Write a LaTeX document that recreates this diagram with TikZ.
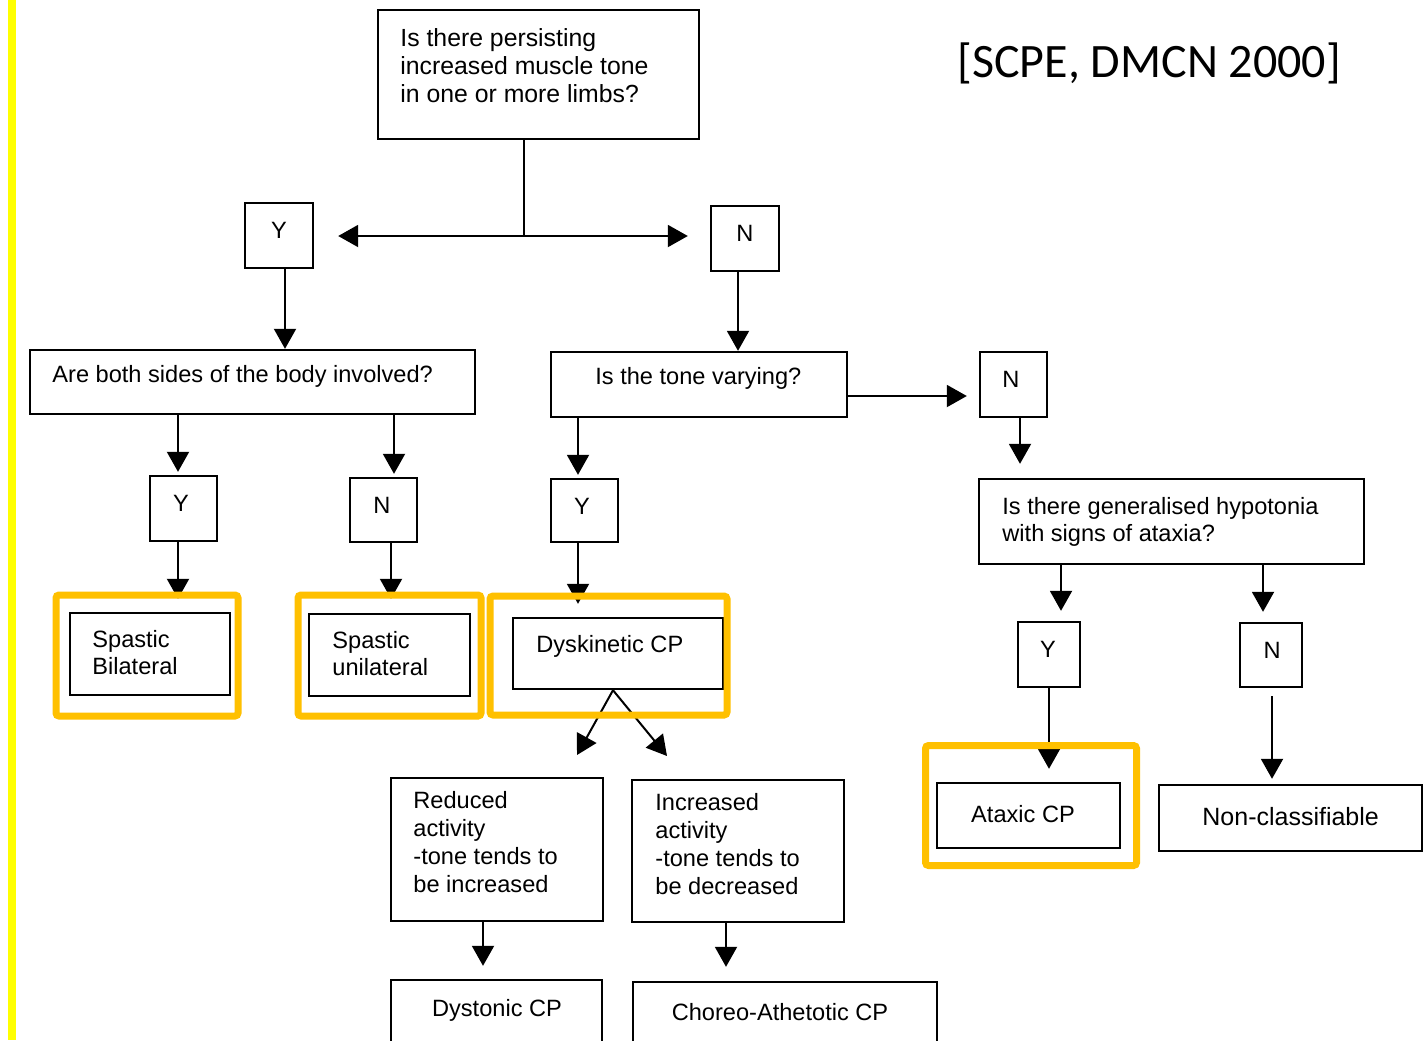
\documentclass[tikz,border=0pt]{standalone}
\usepackage{fontspec}
\setmainfont{Liberation Sans}
\newfontfamily\titlefont{Carlito}
\usetikzlibrary{arrows.meta,fit}
\definecolor{framegold}{HTML}{FFC000}
\definecolor{barYellow}{HTML}{FFFF00}

\begin{document}
\begin{tikzpicture}[x=0.5pt,y=-0.5pt,
  box/.style={draw=black, line width=1.2pt, inner sep=0pt},
  frame/.style={draw=framegold, line width=3.5pt, rounded corners=1.5pt, inner sep=0pt},
  txt/.style={inner sep=0pt, align=left, font=\fontsize{11.8}{14}\selectfont},
  ctxt/.style={inner sep=0pt, font=\fontsize{11.8}{14}\selectfont},
  arr/.style={line width=1pt, -{Triangle[length=10pt,width=11pt]}},
  link/.style={line width=1pt},
]
\clip (0,0) rectangle (1427,1040);
\fill[white] (0,0) rectangle (1427,1040);

% left margin bar
\fill[barYellow] (8,0) rectangle (16,1040);

% source note
\node[anchor=base west, inner sep=0pt, font=\titlefont\fontsize{24}{28}\selectfont] (src) at (957,77) {[SCPE, DMCN 2000]};

% ---------- boxes ----------
\node[box, fit={(378,10)(699,139)}] (q1) {};
\node[box, fit={(245,203)(313,268)}] (y1) {};
\node[box, fit={(711,206)(779,271)}] (n1) {};
\node[box, fit={(30,350)(475,414)}] (q2) {};
\node[box, fit={(551,352)(847,417)}] (q3) {};
\node[box, fit={(980,352)(1047,417)}] (n3) {};
\node[box, fit={(979,479)(1364,564)}] (q4) {};
\node[box, fit={(150,476)(217,541)}] (y2) {};
\node[box, fit={(350,478)(417,542)}] (n2) {};
\node[box, fit={(551,479)(618,542)}] (y3) {};
\node[box, fit={(70,613)(230,695)}] (r1) {};
\node[box, fit={(309,614)(470,696)}] (r2) {};
\node[box, fit={(513,618)(723,689)}] (r3) {};
\node[box, fit={(391,778)(603,921)}] (d1) {};
\node[box, fit={(632,780)(844,922)}] (d2) {};
\node[box, fit={(391,980)(602,1060)}] (r4) {};
\node[box, fit={(633,982)(937,1060)}] (r5) {};
\node[box, fit={(1018,622)(1080,687)}] (y4) {};
\node[box, fit={(1240,623)(1302,687)}] (n4) {};
\node[box, fit={(937,783)(1120,848)}] (r6) {};
\node[box, fit={(1159,785)(1422,851)}] (r7) {};

% ---------- texts (multi-line texts sit on the baseline of their last line) ----------
\node[txt, anchor=base west, font=\fontsize{12.4}{14}\selectfont] (q1t) at (400,102.5) {Is there persisting\\increased muscle tone\\in one or more limbs?};
\node[txt, anchor=base west] (q2t) at (52,382) {Are both sides of the body involved?};
\node[txt, anchor=base west] (q3t) at (595,384) {Is the tone varying?};
\node[txt, anchor=base west, font=\fontsize{11.8}{13.4}\selectfont] (q4t) at (1002,541.5) {Is there generalised hypotonia\\with signs of ataxia?};
\node[txt, anchor=base west, font=\fontsize{11.8}{13.5}\selectfont] (r1t) at (92,674.5) {Spastic\\Bilateral};
\node[txt, anchor=base west, font=\fontsize{11.8}{13.5}\selectfont] (r2t) at (332,675.5) {Spastic\\unilateral};
\node[txt, anchor=base west] (r3t) at (536,652) {Dyskinetic CP};
\node[txt, anchor=base west] (d1t) at (413,892) {Reduced\\activity\\-tone tends to\\be increased};
\node[txt, anchor=base west] (d2t) at (655,894) {Increased\\activity\\-tone tends to\\be decreased};
\node[ctxt, anchor=base] (r4t) at (497,1016) {Dystonic CP};
\node[ctxt, anchor=base] (r5t) at (780,1020) {Choreo-Athetotic CP};
\node[ctxt, anchor=base] (r6t) at (1023,822) {Ataxic CP};
\node[ctxt, anchor=base west, font=\fontsize{12.5}{14}\selectfont] (r7t) at (1202,825) {Non-classifiable};

\node[ctxt, anchor=base] (y1t) at (279,238) {Y};
\node[ctxt, anchor=base] (n1t) at (745,241) {N};
\node[ctxt, anchor=base] (n3t) at (1011,387) {N};
\node[ctxt, anchor=base] (y2t) at (181,511) {Y};
\node[ctxt, anchor=base] (n2t) at (382,513) {N};
\node[ctxt, anchor=base] (y3t) at (582,514) {Y};
\node[ctxt, anchor=base] (y4t) at (1048,657) {Y};
\node[ctxt, anchor=base] (n4t) at (1272,658) {N};

% ---------- connectors ----------
\coordinate (split) at (524,236);
\draw[link] (q1.south -| split) -- (split);
\draw[arr, shorten >=12pt] (split) -- (y1.east |- split);
\draw[arr, shorten >=11pt] (split) -- (n1.west |- split);

\draw[arr] (y1.south -| 285,0) -- (q2.north -| 285,0);
\draw[arr] (n1.south -| 738,0) -- (q3.north -| 738,0);

\draw[arr, shorten >=6pt] (q3.east |- 0,396) -- (n3.west |- 0,396);
\draw[arr, shorten >=7pt] (n3.south -| 1020,0) -- (q4.north -| 1020,0);

\draw[arr, shorten >=1.5pt] (q2.south -| 178,0) -- (y2.north -| 178,0);
\draw[arr, shorten >=1.5pt] (q2.south -| 394,0) -- (n2.north -| 394,0);
\draw[arr, shorten >=1.5pt] (q3.south -| 578,0) -- (y3.north -| 578,0);

\draw[arr, shorten >=6.5pt] (y2.south -| 178,0) -- (r1.north -| 178,0);
\draw[arr, shorten >=7pt] (n2.south -| 391,0) -- (r2.north -| 391,0);
\draw[arr, shorten >=6.5pt] (y3.south -| 578,0) -- (r3.north -| 578,0);

\coordinate (dl) at (577,755);
\coordinate (dr) at (667,756);
\draw[arr] (r3.south -| 613,0) -- (dl);
\draw[arr] (r3.south -| 613,0) -- (dr);

\draw[arr, shorten >=6.5pt] (d1.south -| 483,0) -- (r4.north -| 483,0);
\draw[arr, shorten >=7pt] (d2.south -| 726,0) -- (r5.north -| 726,0);

\draw[arr, shorten >=5pt] (q4.south -| 1061,0) -- (y4.north -| 1061,0);
\draw[arr, shorten >=5pt] (q4.south -| 1263,0) -- (n4.north -| 1263,0);
\draw[arr, shorten >=6.5pt] (y4.south -| 1049,0) -- (r6.north -| 1049,0);
\draw[arr, shorten <=4pt, shorten >=2.5pt] (n4.south -| 1272,0) -- (r7.north -| 1272,0);

% ---------- highlight frames ----------
\node[frame, fit={(56,595)(238,716)}] (f1) {};
\node[frame, fit={(298,595)(481,716)}] (f2) {};
\node[frame, fit={(490,596)(727,715)}] (f3) {};
\node[frame, fit={(925.5,745.5)(1136.5,865.5)}] (f4) {};
\end{tikzpicture}
\end{document}
